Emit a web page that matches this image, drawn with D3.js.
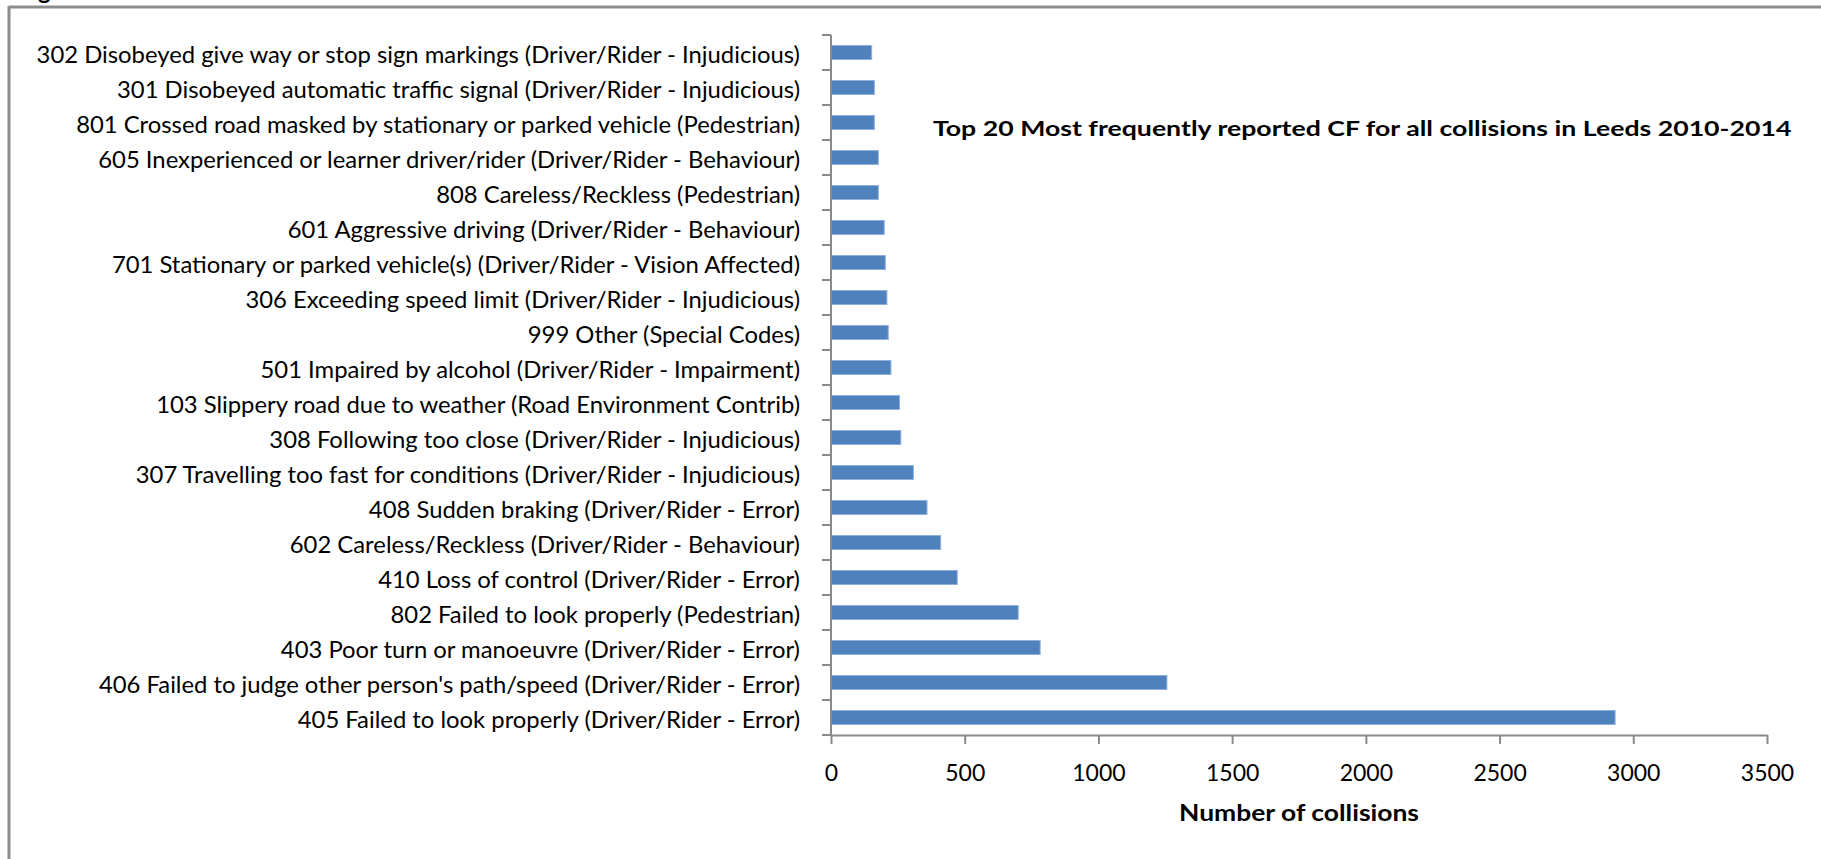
<!DOCTYPE html>
<html>
<head>
<meta charset="utf-8">
<script src="https://cdn.jsdelivr.net/npm/d3@7"></script>
<style>
  html, body { margin: 0; padding: 0; background: #ffffff; }
  svg { display: block; }
  text { font-family: Lato, "Open Sans", sans-serif; fill: #000; }
</style>
</head>
<body>
<svg id="chart" width="1821" height="859"></svg>
<script>
// Contributory factors, top to bottom
const categories = [
  "302 Disobeyed give way or stop sign markings (Driver/Rider - Injudicious)",
  "301 Disobeyed automatic traffic signal (Driver/Rider - Injudicious)",
  "801 Crossed road masked by stationary or parked vehicle (Pedestrian)",
  "605 Inexperienced or learner driver/rider (Driver/Rider - Behaviour)",
  "808 Careless/Reckless (Pedestrian)",
  "601 Aggressive driving (Driver/Rider - Behaviour)",
  "701 Stationary or parked vehicle(s) (Driver/Rider - Vision Affected)",
  "306 Exceeding speed limit (Driver/Rider - Injudicious)",
  "999 Other (Special Codes)",
  "501 Impaired by alcohol (Driver/Rider - Impairment)",
  "103 Slippery road due to weather (Road Environment Contrib)",
  "308 Following too close (Driver/Rider - Injudicious)",
  "307 Travelling too fast for conditions (Driver/Rider - Injudicious)",
  "408 Sudden braking (Driver/Rider - Error)",
  "602 Careless/Reckless (Driver/Rider - Behaviour)",
  "410 Loss of control (Driver/Rider - Error)",
  "802 Failed to look properly (Pedestrian)",
  "403 Poor turn or manoeuvre (Driver/Rider - Error)",
  "406 Failed to judge other person's path/speed (Driver/Rider - Error)",
  "405 Failed to look properly (Driver/Rider - Error)"
];

// Number of collisions per factor
const collisions = [152, 162, 162, 177, 177, 199, 203, 209, 214, 224,
                    256, 261, 308, 359, 410, 472, 700, 782, 1256, 2932];

// Value axis ticks
const xTicks = [0, 500, 1000, 1500, 2000, 2500, 3000, 3500];

const chartTitle = "Top 20 Most frequently reported CF for all collisions in Leeds 2010-2014";
const xAxisTitle = "Number of collisions";

const svg = d3.select("#chart");
const W = 1821, H = 859;
const plot = { left: 831, right: 1767, top: 35, bottom: 735 };
const axisColor = "#8a8a8a";

svg.append("rect").attr("width", W).attr("height", H).attr("fill", "#fff");

// Horizontal squeeze so a text element spans a target width
function squeeze(sel, x, y, target, anchor) {
  const node = sel.node();
  const w = node.getComputedTextLength();
  const k = target / w;
  sel.attr("x", 0).attr("y", 0)
     .attr("text-anchor", anchor)
     .attr("transform", `translate(${x},${y}) scale(${k},1)`);
  return k;
}

// Caption fragment above the frame and frame lines
svg.append("text")
  .attr("x", 38).attr("y", -1)
  .attr("font-size", 24).attr("font-weight", 700)
  .text("g");
svg.append("line")
  .attr("x1", 9).attr("x2", W).attr("y1", 7).attr("y2", 7)
  .attr("stroke", "#8c8c8c").attr("stroke-width", 3);
svg.append("line")
  .attr("x1", 9).attr("x2", 9).attr("y1", 6).attr("y2", H)
  .attr("stroke", "#8c8c8c").attr("stroke-width", 3);

const x = d3.scaleLinear().domain([0, 3500]).range([plot.left, plot.right]);
const y = d3.scaleBand().domain(categories)
  .range([plot.top, plot.bottom])
  .paddingInner(0.6).paddingOuter(0.3);

// Bars
svg.append("g").selectAll("rect")
  .data(categories.map((c, i) => ({ c, v: collisions[i] })))
  .join("rect")
  .attr("x", x(0))
  .attr("y", d => y(d.c))
  .attr("width", d => x(d.v) - x(0))
  .attr("height", y.bandwidth())
  .attr("fill", "#4f81bd")
  .attr("stroke", "#8fb0dc")
  .attr("stroke-width", 1);

// X axis
const xAxis = d3.axisBottom(x).tickValues(xTicks).tickSize(9).tickSizeOuter(0).tickFormat(d3.format("d"));
const gx = svg.append("g").attr("transform", `translate(0,${plot.bottom})`).call(xAxis);
gx.select(".domain").attr("stroke", axisColor).attr("stroke-width", 2);
gx.selectAll(".tick line").attr("stroke", axisColor).attr("stroke-width", 2);
gx.selectAll(".tick text").remove();
gx.selectAll(".tick").append("text")
  .attr("y", 46)
  .attr("text-anchor", "middle")
  .attr("font-size", 23)
  .attr("fill", "#000")
  .text(d => d);

// Y axis line and band boundary ticks
const gap = (y.step() - y.bandwidth()) / 2;
const bounds = categories.map(c => y(c) - gap).concat([y(categories[categories.length - 1]) + y.bandwidth() + gap]);
svg.append("line")
  .attr("x1", plot.left).attr("x2", plot.left)
  .attr("y1", plot.top).attr("y2", plot.bottom)
  .attr("stroke", axisColor).attr("stroke-width", 2);
svg.append("g").selectAll("line").data(bounds).join("line")
  .attr("x1", plot.left - 9).attr("x2", plot.left)
  .attr("y1", d => d).attr("y2", d => d)
  .attr("stroke", axisColor).attr("stroke-width", 2);

// Category labels, compressed uniformly to the measured label width
const labels = svg.append("g").selectAll("text").data(categories).join("text")
  .attr("font-size", 24)
  .text(d => d);
const ref = labels.filter((d, i) => i === 0);
const kLab = 764 / ref.node().getComputedTextLength();
labels.attr("text-anchor", "end")
  .attr("transform", d => `translate(800,${y(d) + y.bandwidth() / 2 + 10}) scale(${kLab},1)`);

// Chart title
const t = svg.append("text").attr("font-size", 20).attr("font-weight", 700).text(chartTitle);
squeeze(t, 933, 136, 859, "start");

// Axis title
const at = svg.append("text").attr("font-size", 22).attr("font-weight", 700).text(xAxisTitle);
squeeze(at, (plot.left + plot.right) / 2, 821, 240, "middle");
</script>
</body>
</html>
